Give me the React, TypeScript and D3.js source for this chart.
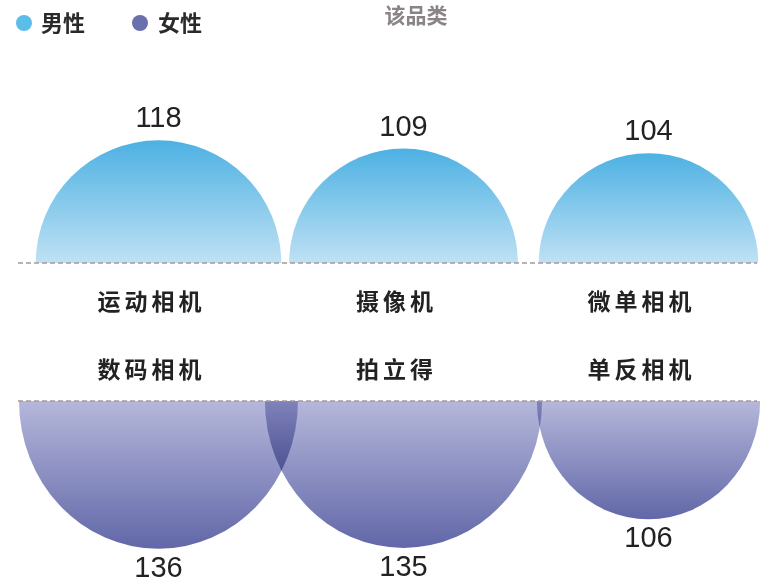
import React from "react";
import * as d3 from "d3";

const categories = ["A", "B", "C"];
const maleLabels = ["运动相机", "摄像机", "微单相机"];
const femaleLabels = ["数码相机", "拍立得", "单反相机"];
const maleValues = [118, 109, 104];
const femaleValues = [136, 135, 106];
const legendItems = ["男性", "女性"];
const title = "该品类";

const W = 762;
const H = 582;
const topBase = 263;
const botBase = 401;
const cjk = "'Noto Sans CJK SC', 'Noto Sans', sans-serif";
const latin = "'Liberation Sans', Arial, sans-serif";

export default function App() {
  const x = d3.scaleBand<string>().domain(categories).range([36, 771]).padding(0);
  const cx = (c: string) => (x(c) as number) + x.bandwidth() / 2;
  const r = d3.scaleLinear().domain([0, 136]).range([13, 139.5]);
  const yStretch = 1.06;

  const topArc = (rad: number) =>
    `M${-rad},0 A${rad},${rad} 0 0 1 ${rad},0 Z`;
  const botArc = (rad: number) =>
    `M${-rad},0 A${rad},${rad * yStretch} 0 0 0 ${rad},0 Z`;

  return (
    <svg width={W} height={H} style={{ position: "absolute", left: 0, top: 0, background: "#fff" }}>
      <defs>
        <linearGradient id="gMale" x1="0" y1="0" x2="0" y2="1">
          <stop offset="0" stopColor="#4db1e3" />
          <stop offset="1" stopColor="#bfe1f4" />
        </linearGradient>
        <linearGradient id="gFemale" x1="0" y1="0" x2="0" y2="1">
          <stop offset="0" stopColor="#b5b7da" />
          <stop offset="1" stopColor="#6167a8" />
        </linearGradient>
      </defs>
      <g style={{ isolation: "isolate" }}>
        <rect width={W} height={H} fill="#fff" />

        {/* legend */}
        <circle cx={24} cy={23} r={8} fill="#5bbde9" />
        <text x={41} y={31} fontFamily={cjk} fontWeight={700} fontSize={22} fill="#2a2a2a">{legendItems[0]}</text>
        <circle cx={140} cy={23} r={8} fill="#6a6fae" />
        <text x={158} y={31} fontFamily={cjk} fontWeight={700} fontSize={22} fill="#2a2a2a">{legendItems[1]}</text>

        <text x={416} y={23} textAnchor="middle" fontFamily={cjk} fontWeight={700} fontSize={21} fill="#8a8484">{title}</text>

        {/* male semicircles */}
        {categories.map((c, i) => {
          const rad = r(maleValues[i]);
          return (
            <g key={"m" + c} transform={`translate(${cx(c)},${topBase})`}>
              <path d={topArc(rad)} fill="url(#gMale)" />
              <text y={-rad - 13} textAnchor="middle" fontFamily={latin} fontSize={29} fill="#222">{maleValues[i]}</text>
            </g>
          );
        })}

        {/* female semicircles */}
        {categories.map((c, i) => {
          const rad = r(femaleValues[i]);
          return (
            <g key={"f" + c} transform={`translate(${cx(c)},${botBase})`}>
              <path d={botArc(rad)} fill="url(#gFemale)" style={{ mixBlendMode: "multiply" }} />
              <text y={rad * yStretch + 28} textAnchor="middle" fontFamily={latin} fontSize={29} fill="#222">{femaleValues[i]}</text>
            </g>
          );
        })}

        {/* dashed baselines */}
        <line x1={18} x2={757} y1={topBase} y2={topBase} stroke="#a8999a" strokeWidth={1.6} strokeDasharray="5 3" />
        <line x1={18} x2={757} y1={botBase} y2={botBase} stroke="#a8999a" strokeWidth={1.6} strokeDasharray="5 3" />

        {/* category labels */}
        {categories.map((c, i) => (
          <g key={"l" + c}>
            <text x={cx(c) - 7} y={310} textAnchor="middle" fontFamily={cjk} fontWeight={700} fontSize={23} letterSpacing={4} fill="#222">{maleLabels[i]}</text>
            <text x={cx(c) - 7} y={378} textAnchor="middle" fontFamily={cjk} fontWeight={700} fontSize={23} letterSpacing={4} fill="#222">{femaleLabels[i]}</text>
          </g>
        ))}
      </g>
    </svg>
  );
}
